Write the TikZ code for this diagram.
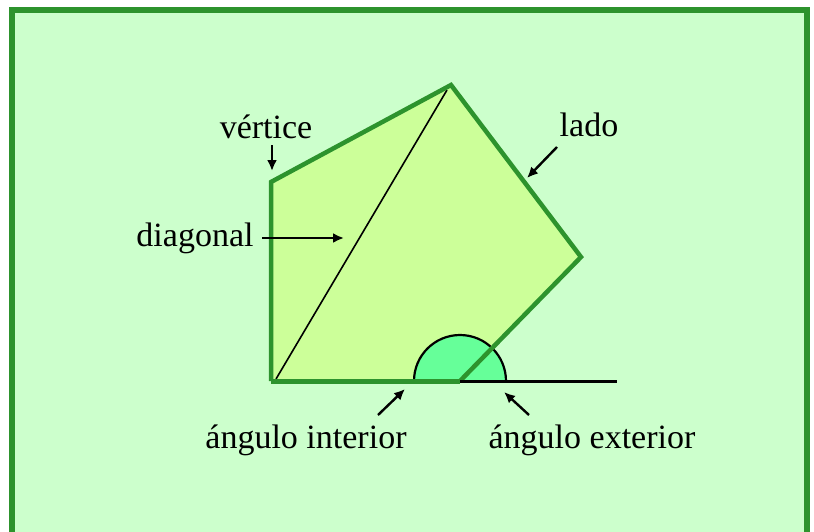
\documentclass[tikz,border=0pt]{standalone}
\usepackage{fontspec}
\setmainfont{Liberation Serif}
\usetikzlibrary{arrows.meta}
\definecolor{framegreen}{HTML}{2D932D}
\definecolor{bgmint}{HTML}{CCFFCC}
\definecolor{polyfill}{HTML}{CCFF99}
\definecolor{semifill}{HTML}{66FF99}
\tikzset{
  lbl/.style={font=\fontsize{34}{37}\selectfont, inner sep=0pt},
  ptr/.style={line width=2.4pt, -{Latex[length=11pt,width=10pt]}},
  edge/.style={framegreen, line width=4.5pt, line join=miter},
}
\begin{document}
\begin{tikzpicture}[x=1pt,y=-1pt]
\useasboundingbox (0,0) rectangle (814,531);
\begin{scope}
\clip (0,0) rectangle (814,531);
\fill[white] (0,0) rectangle (814,531);
\fill[framegreen] (9,7) rectangle (810,545);
\fill[bgmint] (15,13) rectangle (804,545);
\end{scope}
% polygon
\coordinate (A) at (271,182);
\coordinate (B) at (451,85);
\coordinate (C) at (581,257);
\coordinate (D) at (460,381);
\coordinate (E) at (271,381);
\coordinate (F) at (617,381);
\fill[polyfill] (A) -- (B) -- (C) -- (D) -- (E) -- cycle;
% semicircle (exterior/interior angle)
\fill[semifill] (414,381) arc[start angle=180,end angle=360,radius=46] -- cycle;
\draw[black, line width=2.2pt] (414,381) arc[start angle=180,end angle=360,radius=46];
% diagonal
\coordinate (G) at (276,379);
\coordinate (H) at (447,90);
\draw[black, line width=1.6pt] (G) -- (H);
% sides
\draw[edge] (E) -- (A) -- (B) -- (C) -- (D);
\draw[framegreen, line width=5pt] (E) -- (D);
\draw[black, line width=3pt] (D) -- (F);
% labels
\node[lbl] (vert) at (266,127) {vértice};
\node[lbl] (lado) at (589,125) {lado};
\node[lbl] (diag) at (195,238) {diagonal};
\node[lbl] (aint) at (306,440) {ángulo interior};
\node[lbl] (aext) at (592,440) {ángulo exterior};
% pointer ends
\coordinate (v1) at (272,145); \coordinate (v2) at (272,171);
\coordinate (d1) at (262,238); \coordinate (d2) at (344,238);
\coordinate (l1) at (557,147); \coordinate (l2) at (527,178);
\coordinate (i1) at (378,415); \coordinate (i2) at (405,389);
\coordinate (e1) at (529,415); \coordinate (e2) at (504,392);
\draw[ptr] (v1) -- (v2);
\draw[ptr] (d1) -- (d2);
\draw[ptr] (l1) -- (l2);
\draw[ptr] (i1) -- (i2);
\draw[ptr] (e1) -- (e2);
\end{tikzpicture}
\end{document}
